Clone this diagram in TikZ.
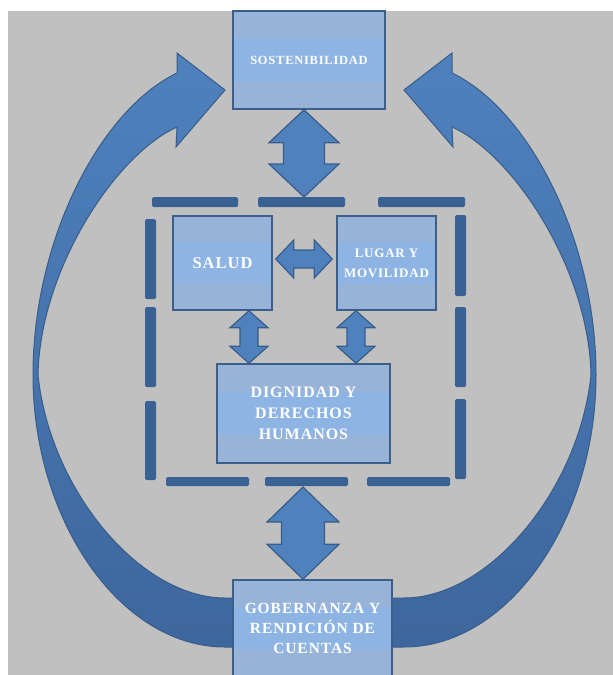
\documentclass[tikz,border=0pt]{standalone}
\usepackage{fontspec}
\setmainfont{Liberation Serif}[LetterSpace=6]
\usetikzlibrary{calc}

\definecolor{bggray}{HTML}{C0C0C0}
\definecolor{boxfill}{HTML}{97B3D7}
\definecolor{boxband}{HTML}{8DB4E2}
\definecolor{boxline}{HTML}{3B5F8C}
\definecolor{arrowfill}{HTML}{4F81BD}
\definecolor{arrowline}{HTML}{385D8A}
\definecolor{dashblue}{HTML}{3A6193}
\definecolor{bandtop}{HTML}{4F81BD}
\definecolor{bandbot}{HTML}{3D679D}

\tikzset{
  topic/.style={draw=boxline, line width=1.5pt, fill=boxfill, text=white,
    align=center, inner sep=0pt,
    path picture={\fill[boxband]
      ($(path picture bounding box.north west)!0.28!(path picture bounding box.south west)$)
      rectangle
      ($(path picture bounding box.north east)!0.72!(path picture bounding box.south east)$);}},
  blockarrow/.style={draw=arrowline, line width=1.2pt, fill=arrowfill},
  dashbar/.style={fill=dashblue, rounded corners=1.5pt},
  bendband/.style={draw=arrowline, line width=1pt, top color=bandtop, bottom color=bandbot},
}

% vertical block arrow with two heads: top, bottom, head half width, shaft half width, head length
\newcommand\blockvarrow[5]{%
  \path[blockarrow] let \p1=(#1), \p2=(#2) in
    (\x1,\y1) -- (\x1+#3pt,\y1-#5pt) -- (\x1+#4pt,\y1-#5pt) -- (\x1+#4pt,\y2+#5pt)
    -- (\x1+#3pt,\y2+#5pt) -- (\x1,\y2) -- (\x1-#3pt,\y2+#5pt) -- (\x1-#4pt,\y2+#5pt)
    -- (\x1-#4pt,\y1-#5pt) -- (\x1-#3pt,\y1-#5pt) -- cycle;}
% same, left to right
\newcommand\blockharrow[5]{%
  \path[blockarrow] let \p1=(#1), \p2=(#2) in
    (\x1,\y1) -- (\x1+#5pt,\y1+#3pt) -- (\x1+#5pt,\y1+#4pt) -- (\x2-#5pt,\y1+#4pt)
    -- (\x2-#5pt,\y1+#3pt) -- (\x2,\y1) -- (\x2-#5pt,\y1-#3pt) -- (\x2-#5pt,\y1-#4pt)
    -- (\x1+#5pt,\y1-#4pt) -- (\x1+#5pt,\y1-#3pt) -- cycle;}

\begin{document}
\begin{tikzpicture}[x=1pt,y=-1pt]
  \useasboundingbox (0,0) rectangle (613,675);
  \fill[white] (0,0) rectangle (613,675);
  \fill[bggray] (8,11) rectangle (613,675);

  % the two big curved arrows
  \def\bandpath{(240,647) -- (225,647) .. controls (120,647) and (33,520) .. (33,375)
    .. controls (33,240) and (100,110) .. (177,73) -- (177,53) -- (225,90) -- (176,147)
    -- (177,127) .. controls (115,155) and (40,270) .. (38,375)
    .. controls (50,490) and (140,598) .. (225,598) -- (240,598) -- cycle}
  \path[bendband] \bandpath;
  \path[bendband, shift={(629,0)}, xscale=-1] \bandpath;

  % dashed frame
  \foreach \a/\b in {152/238,258/345,378/465} \fill[dashbar] (\a,197) rectangle (\b,207);
  \foreach \a/\b in {166/249,265/348,367/450} \fill[dashbar] (\a,477) rectangle (\b,486);
  \foreach \a/\b in {219/299,307/387,401/480} \fill[dashbar] (145,\a) rectangle (156,\b);
  \foreach \a/\b in {215/296,307/387,399/479} \fill[dashbar] (455,\a) rectangle (466,\b);
  \coordinate (dtop) at (304,197);
  \coordinate (dbot) at (303,487);

  \node[topic, minimum width=152, minimum height=98,
    font=\bfseries\fontsize{12.5}{15}\selectfont] (sost) at (309,60) {SOSTENIBILIDAD};
  \node[topic, minimum width=99, minimum height=94,
    font=\bfseries\fontsize{16.5}{20}\selectfont] (salud) at (222.5,263) {SALUD};
  \node[topic, minimum width=99, minimum height=94,
    font=\bfseries\fontsize{13}{20}\selectfont] (lugar) at (386.5,263) {LUGAR Y\\MOVILIDAD};
  \node[topic, minimum width=173, minimum height=99,
    font=\bfseries\fontsize{16}{21}\selectfont] (dign) at (303.5,413.5) {DIGNIDAD Y\\DERECHOS\\HUMANOS};
  \node[topic, minimum width=159, minimum height=96,
    font=\bfseries\fontsize{15.5}{20}\selectfont] (gob) at (312.5,628) {GOBERNANZA Y\\RENDICIÓN DE\\CUENTAS};

  \coordinate (dL) at ($(dign.north)+(-54.5,0)$);
  \coordinate (dR) at ($(dign.north)+(52.5,0)$);

  \blockvarrow{sost.south -| dtop}{dtop}{35}{20.5}{33}
  \blockvarrow{dbot}{gob.north -| dbot}{36}{21.5}{35}
  \blockvarrow{salud.south -| dL}{dL}{19}{9}{17}
  \blockvarrow{lugar.south -| dR}{dR}{19}{9}{17}
  \blockharrow{$(salud.east)+(3,-4)$}{$(lugar.west)+(-4,-4)$}{19}{9}{18}
\end{tikzpicture}
\end{document}
